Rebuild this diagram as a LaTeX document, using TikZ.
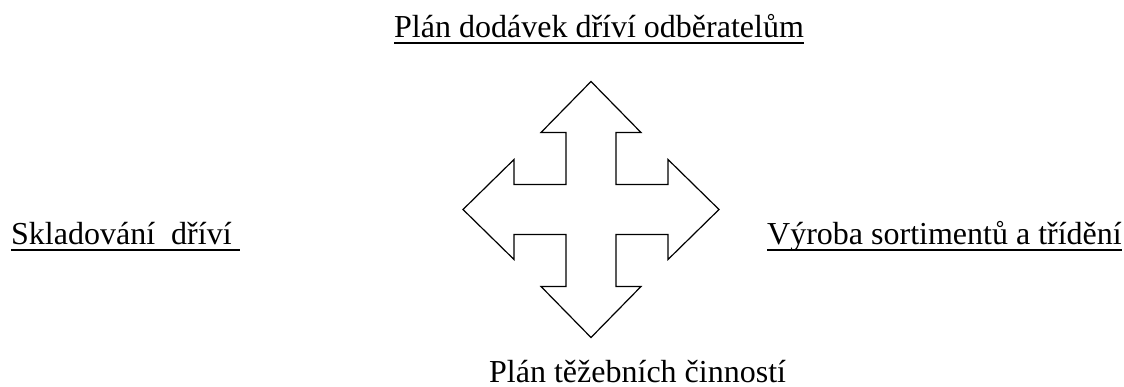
\documentclass[tikz,border=0pt]{standalone}
\usepackage{fontspec}
\setmainfont{Liberation Serif}
\begin{document}
\begin{tikzpicture}[x=1pt,y=-1pt,
  label text/.style={inner sep=0pt,anchor=base west,font=\fontsize{32}{38}\selectfont},
  uline/.style={line width=2pt},
  crossline/.style={line width=1.2pt,line join=miter}]
\useasboundingbox (0,0) rectangle (1124,387);

% four-way arrow
\begin{scope}[shift={(591,209.5)}]
\def\w{25}\def\hb{77}\def\hh{50}\def\t{128}
\draw[crossline]
  (0,-\t) -- (\hh,-\hb) -- (\w,-\hb) -- (\w,-\w) -- (\hb,-\w) -- (\hb,-\hh) --
  (\t,0) -- (\hb,\hh) -- (\hb,\w) -- (\w,\w) -- (\w,\hb) -- (\hh,\hb) --
  (0,\t) -- (-\hh,\hb) -- (-\w,\hb) -- (-\w,\w) -- (-\hb,\w) -- (-\hb,\hh) --
  (-\t,0) -- (-\hb,-\hh) -- (-\hb,-\w) -- (-\w,-\w) -- (-\w,-\hb) -- (-\hh,-\hb) -- cycle;
\end{scope}

% labels
\node[label text] (top) at (394,38) {Plán dodávek dříví odběratelům};
\node[label text] (left) at (11,245) {Skladování\ \ dříví\ \null};
\node[label text] (right) at (767,245) {Výroba sortimentů a třídění};
\node[label text] (bottom) at (489,382) {Plán těžebních činností};

% underlines
\foreach \n in {top,left,right}
  \draw[uline] ([yshift=-5pt]\n.base west) -- ([yshift=-5pt]\n.base east);
\end{tikzpicture}
\end{document}
